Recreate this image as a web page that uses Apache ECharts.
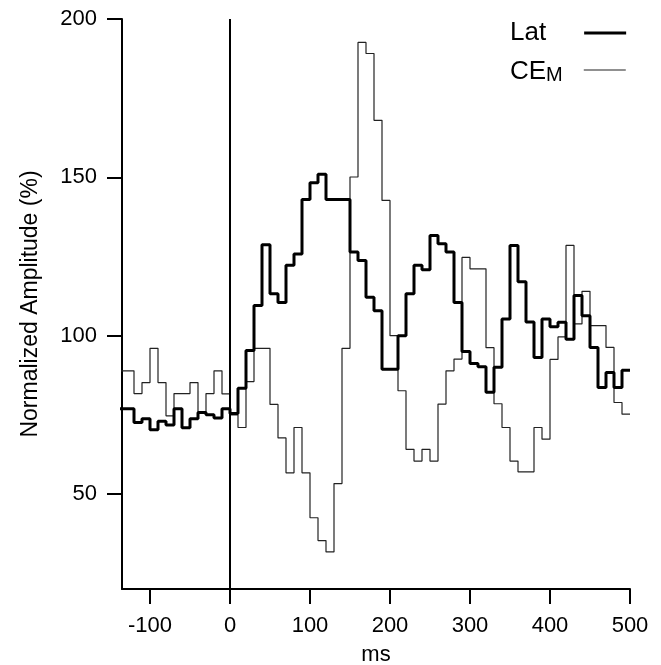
<!DOCTYPE html>
<html>
<head>
<meta charset="utf-8">
<script src="https://cdn.jsdelivr.net/npm/echarts@6/dist/echarts.min.js"></script>
<style>
  html, body { margin: 0; padding: 0; background: #fff; }
  #chart { width: 661px; height: 665px; }
</style>
</head>
<body>
<div id="chart"></div>
<script>
// left edge of each 10 ms bin (last point closes the final bin)
var binStart = [-140, -130, -120, -110, -100, -90, -80, -70, -60, -50, -40, -30, -20, -10,
  0, 10, 20, 30, 40, 50, 60, 70, 80, 90, 100, 110, 120, 130, 140, 150, 160, 170, 180, 190,
  200, 210, 220, 230, 240, 250, 260, 270, 280, 290, 300, 310, 320, 330, 340, 350, 360, 370,
  380, 390, 400, 410, 420, 430, 440, 450, 460, 470, 480, 490, 500];

// Lat (thick)
var latValues = [76.9, 76.9, 72.6, 73.8, 70.3, 73, 71.8, 76.9, 70.9, 73.8, 75.7, 75, 74, 76.9,
  75.4, 83.4, 95.3, 109.5, 128.7, 113.2, 110.5, 122.2, 125.8, 143, 148.3, 151, 143, 143, 143,
  126.4, 123.7, 112.1, 107.9, 89.4, 89.4, 100, 113.2, 122.2, 120.8, 131.6, 129, 126.4, 110.5,
  95, 91.2, 90.2, 82.1, 90, 105.3, 128.5, 117, 104.3, 93.1, 105.3, 102.8, 104.2, 98.9, 112.7,
  106.3, 96.3, 83.6, 88.4, 83.6, 89.1, 89.1];

// CE_M (thin)
var cemValues = [88.9, 88.9, 81.7, 85.2, 96, 85.2, 74.7, 81.7, 81.7, 85.2, 75.5, 81.7, 88.9, 81.6,
  75, 71, 85.5, 96, 96, 78.3, 67.7, 56.7, 71, 56.7, 42.5, 35.3, 31.7, 53.3, 96, 150.1, 192.6,
  189.1, 168, 142.7, 100, 82.6, 64.1, 60.4, 64.1, 60.4, 78.4, 88.9, 92.6, 124.7, 121.1, 121.1,
  96.2, 78.5, 71, 60.4, 57, 57, 71, 67.3, 92.5, 99.6, 128.5, 103.7, 114, 103.2, 103.2, 96.3,
  78.9, 75.2, 75.2];

var xTicks = [-100, 0, 100, 200, 300, 400, 500];
var yTicks = [50, 100, 150, 200];

function pairs(xs, ys) {
  return xs.map(function (x, i) { return [x, ys[i]]; });
}

var font = 'Liberation Sans, Arial, Helvetica, sans-serif';

var chart = echarts.init(document.getElementById('chart'));
chart.setOption({
  animation: false,
  backgroundColor: '#fff',
  grid: {
    left: 122,
    right: 31,
    top: 19,
    bottom: 76,
    containLabel: false,
    outerBoundsMode: 'none'
  },
  legend: [
    {
      data: [{ name: 'Lat', icon: 'rect' }],
      left: 510,
      top: 20,
      padding: 0,
      align: 'right',
      itemWidth: 42,
      itemHeight: 3,
      formatter: function () { return '{t|Lat}'; },
      textStyle: {
        rich: {
          t: { fontFamily: font, fontSize: 26, color: '#000', lineHeight: 30, padding: [0, 33, 0, 0] }
        }
      }
    },
    {
      data: [{ name: 'CEM', icon: 'rect' }],
      left: 510,
      top: 59,
      padding: 0,
      align: 'right',
      itemWidth: 42,
      itemHeight: 1.2,
      formatter: function () { return '{t|CE}{s|M}'; },
      textStyle: {
        rich: {
          t: { fontFamily: font, fontSize: 26, color: '#000', lineHeight: 30, verticalAlign: 'bottom' },
          s: { fontFamily: font, fontSize: 20, color: '#000', lineHeight: 20, verticalAlign: 'bottom', padding: [0, 16, 0, 0] }
        }
      }
    }
  ],
  xAxis: {
    type: 'value',
    min: -135,
    max: 500,
    name: 'ms',
    nameLocation: 'middle',
    nameGap: 55,
    nameTextStyle: { fontFamily: font, fontSize: 22, color: '#000' },
    splitLine: { show: false },
    axisLine: { onZero: false, lineStyle: { color: '#000', width: 2 } },
    axisTick: { customValues: xTicks, length: 15, lineStyle: { color: '#000', width: 2 } },
    axisLabel: { customValues: xTicks, margin: 26, fontFamily: font, fontSize: 22, color: '#000' }
  },
  yAxis: {
    type: 'value',
    min: 20,
    max: 200,
    name: 'Normalized Amplitude (%)',
    nameLocation: 'middle',
    nameRotate: 90,
    nameGap: 80,
    nameTextStyle: { fontFamily: font, fontSize: 23, color: '#000' },
    splitLine: { show: false },
    axisLine: { onZero: false, lineStyle: { color: '#000', width: 2 } },
    axisTick: { customValues: yTicks, length: 15, lineStyle: { color: '#000', width: 2 } },
    axisLabel: { customValues: yTicks, margin: 25, fontFamily: font, fontSize: 22, color: '#000' }
  },
  series: [
    {
      name: 'CEM',
      type: 'line',
      step: 'end',
      symbol: 'none',
      data: pairs(binStart, cemValues),
      lineStyle: { color: '#222', width: 1.2 },
      itemStyle: { color: '#222' },
      markLine: {
        silent: true,
        symbol: ['none', 'none'],
        label: { show: false },
        lineStyle: { color: '#000', width: 2, type: 'solid' },
        data: [{ xAxis: 0 }]
      }
    },
    {
      name: 'Lat',
      type: 'line',
      step: 'end',
      symbol: 'none',
      data: pairs(binStart, latValues),
      lineStyle: { color: '#000', width: 3 },
      itemStyle: { color: '#000' }
    }
  ]
});
</script>
</body>
</html>
